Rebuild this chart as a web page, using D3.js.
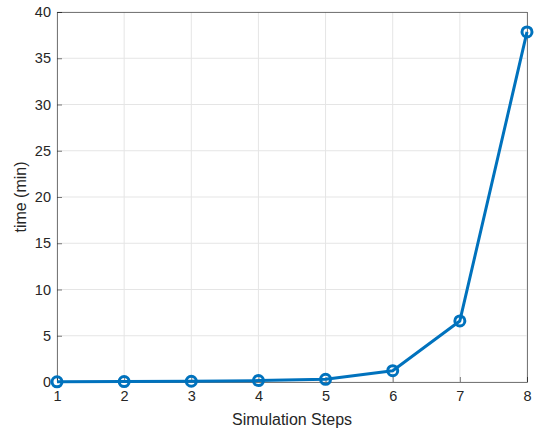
<!DOCTYPE html>
<html><head><meta charset="utf-8">
<script src="https://cdn.jsdelivr.net/npm/d3@7"></script>
<style>body{margin:0;background:#fff}svg{display:block}text{font-family:"Liberation Sans",Arial,sans-serif}</style>
</head><body><svg id="c" width="534" height="438"></svg>
<script>
const steps = [1,2,3,4,5,6,7,8];
const times = [0.02,0.05,0.08,0.15,0.29,1.22,6.6,37.85];
const xTicks = [1,2,3,4,5,6,7,8];
const yTicks = [0,5,10,15,20,25,30,35,40];

const svg = d3.select("#c");
const L=57,R=527,T=12,B=382;
const x = d3.scaleLinear().domain([1,8]).range([L,R]);
const y = d3.scaleLinear().domain([0,40]).range([B,T]);

// grid
svg.append("g").selectAll("line").data(xTicks).join("line")
  .attr("x1",d=>x(d)).attr("x2",d=>x(d)).attr("y1",T).attr("y2",B)
  .attr("stroke","#e5e5e5").attr("stroke-width",1);
svg.append("g").selectAll("line").data(yTicks).join("line")
  .attr("x1",L).attr("x2",R).attr("y1",d=>y(d)).attr("y2",d=>y(d))
  .attr("stroke","#e5e5e5").attr("stroke-width",1);

// axes
const xa = svg.append("g").attr("transform",`translate(0,${B})`)
  .call(d3.axisBottom(x).tickValues(xTicks).tickSize(-5).tickPadding(9).tickFormat(d3.format("d")));
const ya = svg.append("g").attr("transform",`translate(${L},0)`)
  .call(d3.axisLeft(y).tickValues(yTicks).tickSize(-5).tickPadding(6).tickFormat(d3.format("d")));
[xa,ya].forEach(a=>{
  a.select(".domain").attr("stroke","#262626").attr("stroke-opacity",0.6);
  a.selectAll(".tick line").attr("stroke","#262626").attr("stroke-opacity",0.6);
  a.selectAll("text").attr("fill","#262626").style("font-size","14.5px");
});
// box top/right
svg.append("line").attr("x1",L).attr("x2",R).attr("y1",T+0.5).attr("y2",T+0.5).attr("stroke","#262626").attr("stroke-opacity",0.6);
svg.append("line").attr("x1",R+0.5).attr("x2",R+0.5).attr("y1",T).attr("y2",B).attr("stroke","#262626").attr("stroke-opacity",0.6);

// line
const data = steps.map((s,i)=>({s,t:times[i]}));
svg.append("path").datum(data)
  .attr("d",d3.line().x(d=>x(d.s)).y(d=>y(d.t)))
  .attr("fill","none").attr("stroke","#0072BD").attr("stroke-width",3).attr("stroke-linejoin","round");
svg.append("g").selectAll("circle").data(data).join("circle")
  .attr("cx",d=>x(d.s)).attr("cy",d=>y(d.t)).attr("r",5)
  .attr("fill","none").attr("stroke","#0072BD").attr("stroke-width",3);

// labels
svg.append("text").attr("x",(L+R)/2).attr("y",425).attr("text-anchor","middle")
  .attr("fill","#262626").style("font-size","16px").text("Simulation Steps");
svg.append("text").attr("transform",`translate(26,${(T+B)/2}) rotate(-90)`).attr("text-anchor","middle")
  .attr("fill","#262626").style("font-size","16px").text("time (min)");
</script></body></html>
